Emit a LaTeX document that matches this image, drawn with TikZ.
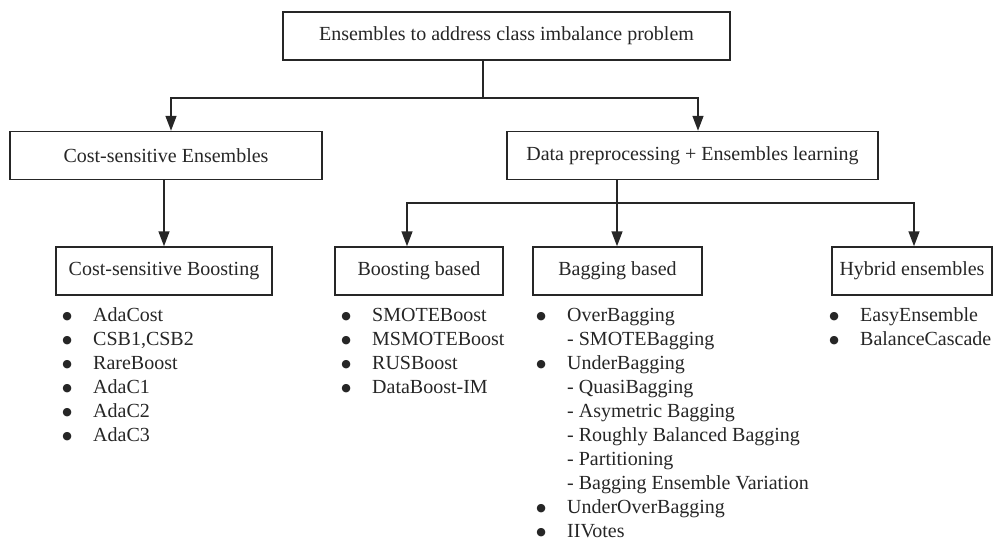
\documentclass[tikz,border=0pt]{standalone}
\usepackage{fontspec}
\setmainfont{Liberation Serif}
\newfontfamily\dotfont{DejaVu Sans}
\usetikzlibrary{arrows.meta}
% bullet hung 26pt to the left of the item text
\newcommand\blt{\llap{\makebox[52pt]{\raisebox{1.5pt}{\dotfont\fontsize{11}{11}\selectfont ●}}}}
\begin{document}
\begin{tikzpicture}[x=1pt,y=-1pt,
  box/.style={draw=black!85, line width=1.5pt, minimum height=48pt, inner sep=0pt,
    font=\fontsize{20}{24}\selectfont, text=black!85},
  link/.style={line width=1.5pt, draw=black!85, -{Triangle[length=15pt,width=11pt]}},
  wire/.style={line width=1.5pt, draw=black!85},
  items/.style={anchor=base west, inner sep=0pt, font=\fontsize{20}{24}\selectfont, text=black!85}]
\useasboundingbox (0,0) rectangle (993,541);

% boxes
\node[box, minimum width=447pt] (top) at (506.5,36) {Ensembles to address class imbalance problem};
\node[box, minimum width=312pt] (cse) at (166,155.5) {Cost-sensitive Ensembles};
\node[box, minimum width=371pt] (dpe) at (692.5,155.5) {Data preprocessing + Ensembles learning};
\node[box, minimum width=216pt] (csb) at (164,271) {Cost-sensitive Boosting};
\node[box, minimum width=168pt] (bb)  at (419,271) {Boosting based};
\node[box, minimum width=169pt] (bab) at (617.5,271) {Bagging based};
\node[box, minimum width=160pt] (hyb) at (912,271) {Hybrid ensembles};

% connectors
\coordinate (j0) at (483,98);
\draw[wire] (top.south -| j0) -- (j0);
\draw[link] (j0) -| ([xshift=5pt]cse.north);
\draw[link] (j0) -| ([xshift=5.5pt]dpe.north);
\draw[link] (cse.south -| csb.north) -- (csb.north);
\coordinate (j1) at (617,203);
\draw[wire] (dpe.south -| j1) -- (j1);
\draw[link] (j1) -| ([xshift=-12pt]bb.north);
\draw[link] (j1) -- (j1 |- bab.north);
\draw[link] (j1) -| ([xshift=2pt]hyb.north);

% method lists
\node[items] (lcsb) at (93,321) {\begin{tabular}[t]{@{}l@{}}
\blt AdaCost\\ \blt CSB1,CSB2\\ \blt RareBoost\\ \blt AdaC1\\ \blt AdaC2\\ \blt AdaC3
\end{tabular}};
\node[items] (lbb) at (372,321) {\begin{tabular}[t]{@{}l@{}}
\blt SMOTEBoost\\ \blt MSMOTEBoost\\ \blt RUSBoost\\ \blt DataBoost-IM
\end{tabular}};
\node[items] (lbab) at (567,321) {\begin{tabular}[t]{@{}l@{}}
\blt OverBagging\\ - SMOTEBagging\\ \blt UnderBagging\\ - QuasiBagging\\
- Asymetric Bagging\\ - Roughly Balanced Bagging\\ - Partitioning\\
- Bagging Ensemble Variation\\ \blt UnderOverBagging\\ \blt IIVotes
\end{tabular}};
\node[items] (lhyb) at (860,321) {\begin{tabular}[t]{@{}l@{}}
\blt EasyEnsemble\\ \blt BalanceCascade
\end{tabular}};
\end{tikzpicture}
\end{document}
